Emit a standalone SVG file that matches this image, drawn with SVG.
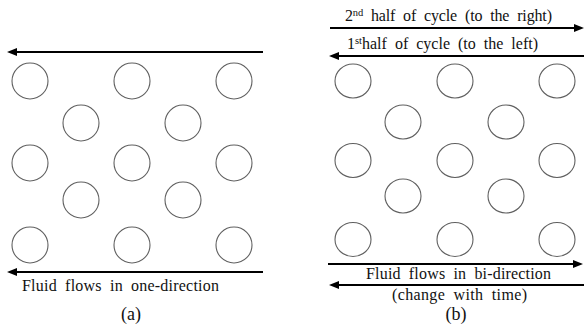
<svg xmlns="http://www.w3.org/2000/svg" width="584" height="326" viewBox="0 0 584 326">
<style>
.tube{fill:none;stroke:#606060;stroke-width:1.1}
.flow{stroke:#000;stroke-width:2;fill:none;marker-end:url(#ah)}
.t{font-family:"Liberation Serif","Times New Roman",serif;font-size:16px;word-spacing:4px;fill:#111}
.lab{font-family:"Liberation Serif","Times New Roman",serif;font-size:18px;fill:#111;text-anchor:middle}
</style>
<defs>
<marker id="ah" markerUnits="userSpaceOnUse" markerWidth="10" markerHeight="8" refX="3" refY="4" orient="auto">
<path d="M0,0 L10,4 L0,8 z" fill="#000"/>
</marker>
</defs>
<rect width="584" height="326" fill="#fff"/>
<g id="panel-a-tubes">
<circle class="tube" cx="30" cy="81" r="18"/><circle class="tube" cx="132" cy="81" r="18"/><circle class="tube" cx="234" cy="81" r="18"/>
<circle class="tube" cx="81" cy="123" r="18"/><circle class="tube" cx="183" cy="123" r="18"/>
<circle class="tube" cx="30" cy="163" r="18"/><circle class="tube" cx="132" cy="163" r="18"/><circle class="tube" cx="234" cy="163" r="18"/>
<circle class="tube" cx="81" cy="200" r="18"/><circle class="tube" cx="183" cy="200" r="18"/>
<circle class="tube" cx="30" cy="245" r="18"/><circle class="tube" cx="132" cy="245" r="18"/><circle class="tube" cx="234" cy="245" r="18"/>
</g>
<g id="panel-b-tubes">
<ellipse class="tube" cx="353" cy="81" rx="18" ry="17"/><ellipse class="tube" cx="455" cy="81" rx="18" ry="17"/><ellipse class="tube" cx="557" cy="81" rx="18" ry="17"/>
<ellipse class="tube" cx="403" cy="122" rx="18" ry="17"/><ellipse class="tube" cx="506" cy="122" rx="18" ry="17"/>
<ellipse class="tube" cx="353" cy="160.5" rx="18" ry="17"/><ellipse class="tube" cx="455" cy="160.5" rx="18" ry="17"/><ellipse class="tube" cx="557" cy="160.5" rx="18" ry="17"/>
<ellipse class="tube" cx="403" cy="196" rx="18" ry="17"/><ellipse class="tube" cx="506" cy="196" rx="18" ry="17"/>
<ellipse class="tube" cx="353" cy="239.5" rx="18" ry="17"/><ellipse class="tube" cx="455" cy="239.5" rx="18" ry="17"/><ellipse class="tube" cx="557" cy="239.5" rx="18" ry="17"/>
</g>
<g id="connectors">
<line class="flow" x1="263" y1="52" x2="14" y2="52"/>
<line class="flow" x1="263" y1="272" x2="14" y2="272"/>
<line class="flow" x1="330" y1="28" x2="577" y2="28"/>
<line class="flow" x1="584" y1="56" x2="336" y2="56"/>
<line class="flow" x1="328" y1="264" x2="576" y2="264"/>
<line class="flow" x1="584" y1="285" x2="336" y2="285"/>
</g>
<g id="labels">
<text class="t" x="22" y="291" textLength="197" lengthAdjust="spacing">Fluid flows in one-direction</text>
<text class="lab" x="131" y="320">(a)</text>
<text class="t" x="345" y="21" textLength="207" lengthAdjust="spacing">2<tspan font-size="10.5" dy="-5.5">nd</tspan><tspan dy="5.5"> half of cycle (to the right)</tspan></text>
<text class="t" x="347" y="49" textLength="191" lengthAdjust="spacing">1<tspan font-size="10.5" dy="-5.5">st</tspan><tspan dy="5.5">half of cycle (to the left)</tspan></text>
<text class="t" x="366" y="279" textLength="185" lengthAdjust="spacing">Fluid flows in bi-direction</text>
<text class="t" x="392" y="300" textLength="135" lengthAdjust="spacing">(change with time)</text>
<text class="lab" x="456" y="320">(b)</text>
</g>
</svg>
